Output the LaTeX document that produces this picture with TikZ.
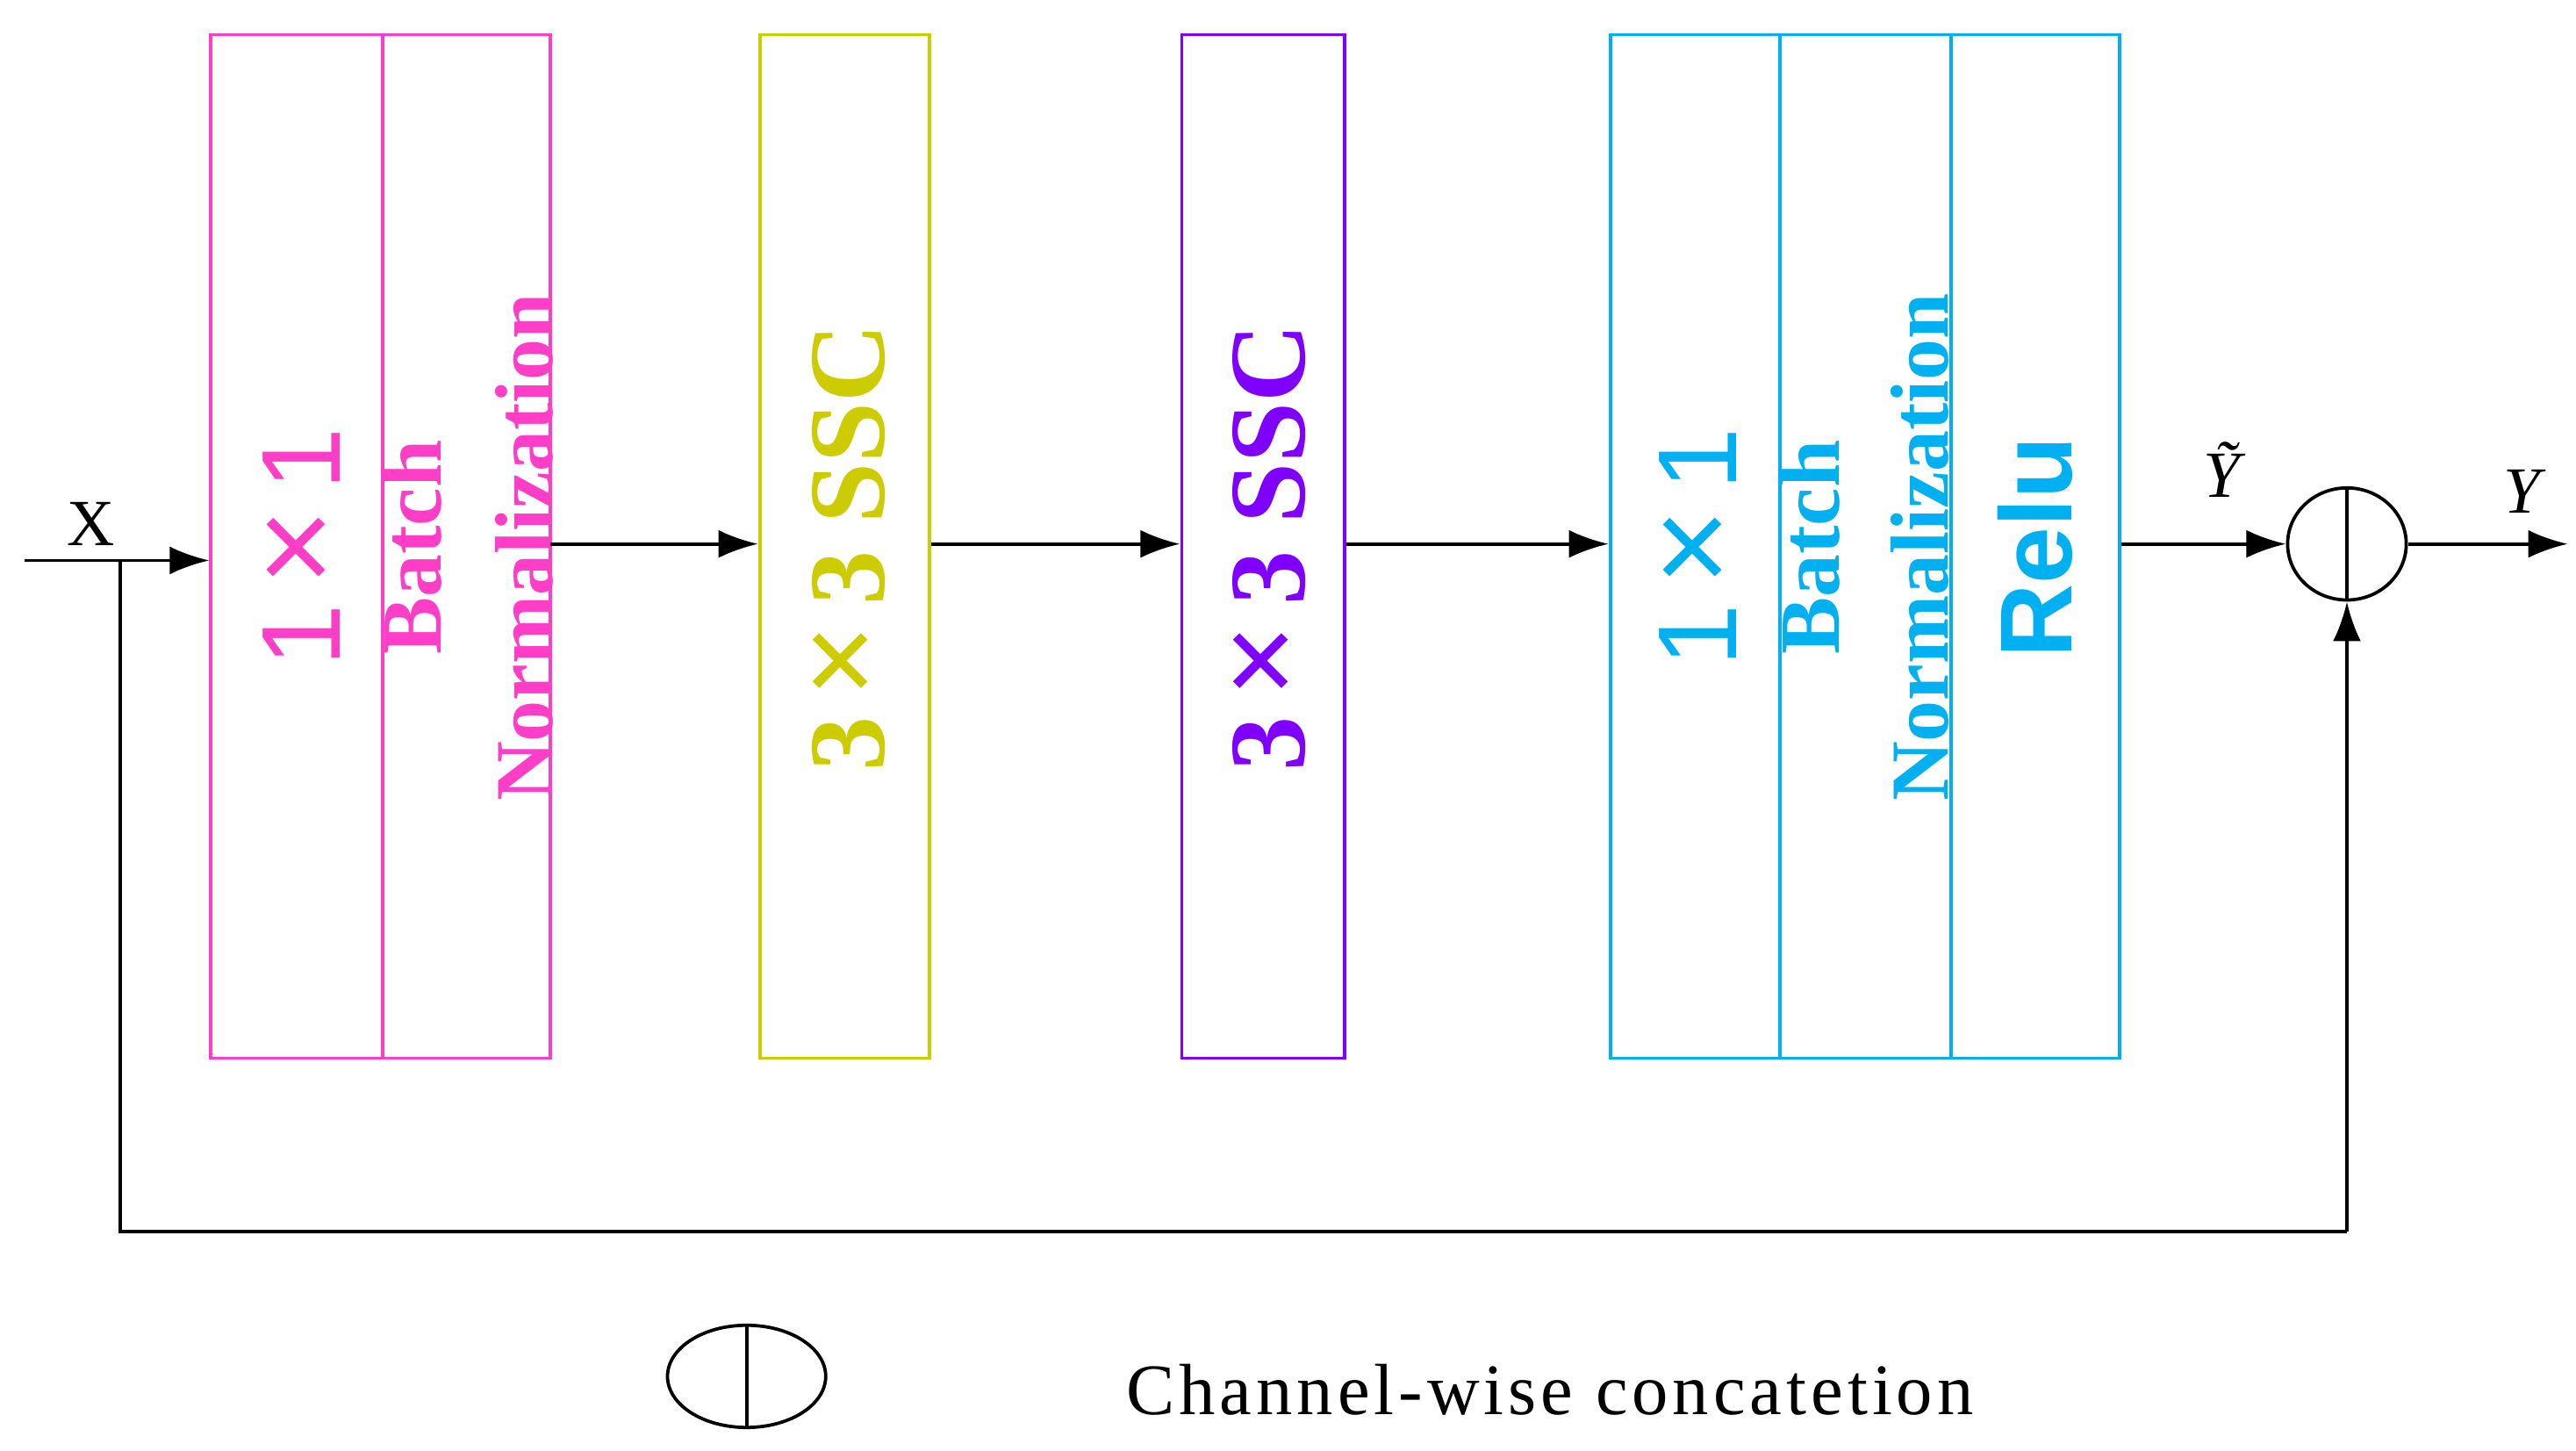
\documentclass[tikz,border=0pt]{standalone}
\usepackage{fontspec}
\setmainfont{Liberation Serif}
\newfontfamily\sansf{Liberation Sans}
\usetikzlibrary{arrows.meta,shapes.geometric}
\definecolor{cpink}{HTML}{FF3EC8}
\definecolor{cyel}{HTML}{CCCC00}
\definecolor{cpur}{HTML}{7F00FF}
\definecolor{ccyan}{HTML}{00B0F0}
\begin{document}
\begin{tikzpicture}[x=1pt,y=-1pt,
  blk/.style={draw,line width=2pt,minimum width=#1,minimum height=621pt,inner sep=0,anchor=north west},
  vt/.style={rotate=90,inner sep=0,font=\bfseries},
  ar/.style={line width=2pt,-{Latex[length=24pt,width=17pt]}}]
\useasboundingbox (0,0) rectangle (1563,880);
\node[blk=104pt,draw=cpink] (p1) at (127,20) {};
\node[blk=102pt,draw=cpink] (p2) at (231,20) {};
\node[blk=103pt,draw=cyel] (y1) at (460,20) {};
\node[blk=99pt,draw=cpur] (u1) at (716,20) {};
\node[blk=103pt,draw=ccyan] (c1) at (976,20) {};
\node[blk=104pt,draw=ccyan] (c2) at (1079,20) {};
\node[blk=102pt,draw=ccyan] (c3) at (1183,20) {};
\node[vt,text=cpink,font=\sansf\fontsize{68}{68}\selectfont] at (183,332) {1\,{\fontsize{80}{80}\selectfont×}\,1};
\node[vt,text=cpink,font=\bfseries\fontsize{52}{52}\selectfont] at (250,332) {Batch};
\node[vt,text=cpink,font=\bfseries\fontsize{50}{50}\selectfont] at (318,332) {Normalization};
\node[vt,text=cyel,font=\bfseries\fontsize{66}{66}\selectfont] at (515,332) {3\,{\fontsize{80}{80}\selectfont×}\,3 SSC};
\node[vt,text=cpur,font=\bfseries\fontsize{66}{66}\selectfont] at (770,332) {3\,{\fontsize{80}{80}\selectfont×}\,3 SSC};
\node[vt,text=ccyan,font=\sansf\fontsize{68}{68}\selectfont] at (1030,332) {1\,{\fontsize{80}{80}\selectfont×}\,1};
\node[vt,text=ccyan,font=\bfseries\fontsize{52}{52}\selectfont] at (1098,332) {Batch};
\node[vt,text=ccyan,font=\bfseries\fontsize{50}{50}\selectfont] at (1165,332) {Normalization};
\node[vt,text=ccyan,font=\sansf\bfseries\fontsize{62}{62}\selectfont] at (1235,332) {Relu};
\node[draw,line width=2pt,ellipse,minimum width=72pt,minimum height=68pt,inner sep=0] (cat) at (1424,330) {};
\draw[line width=2pt] (cat.north) -- (cat.south);
\coordinate (in) at (15,340);
\coordinate (out) at (1558,330);
\coordinate (br) at (73,340);
\coordinate (b1) at (73,747);
\coordinate (b2) at (1424,747);
\node[font=\fontsize{40}{40}\selectfont] (xl) at (55,318) {X};
\node[font=\itshape\fontsize{40}{40}\selectfont] (yt) at (1348,285) {\~{Y}};
\node[font=\itshape\fontsize{40}{40}\selectfont] (yl) at (1530,298) {Y};
\draw[ar] (in) -- (p1.west|-in);
\draw[ar] (334,330) -- (y1.west|-out);
\draw[ar] (y1.east|-out) -- (u1.west|-out);
\draw[ar] (u1.east|-out) -- (c1.west|-out);
\draw[ar] (c3.east|-out) -- (cat.west);
\draw[ar] (cat.east) -- (out);
\draw[line width=2pt] (br) -- (b1) -- (b2);
\draw[ar] (b2) -- (cat.south);
\node[draw,line width=2pt,ellipse,minimum width=96pt,minimum height=62pt,inner sep=0] (leg) at (453,835) {};
\draw[line width=2pt] (leg.north) -- (leg.south);
\node[font=\fontsize{44}{44}\selectfont,anchor=west] (lt) at (680,843) {\addfontfeature{LetterSpace=6}Channel-wise concatetion};
\end{tikzpicture}
\end{document}
